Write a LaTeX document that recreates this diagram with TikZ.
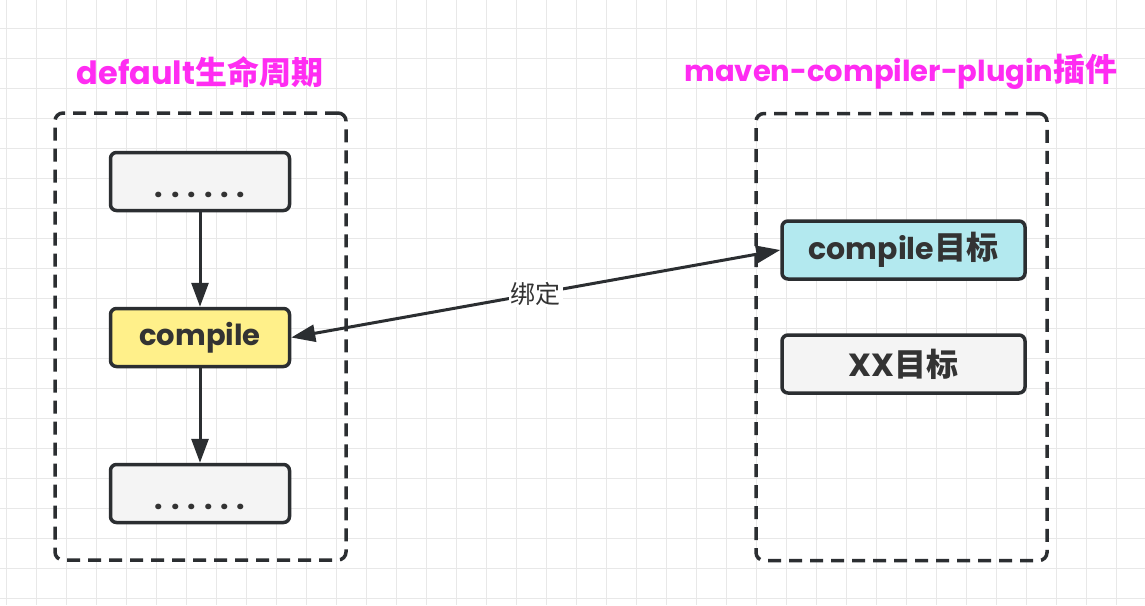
\documentclass[tikz,border=0pt]{standalone}
\usepackage{fontspec}
\setmainfont{Poppins}
\newfontfamily\cjk{Noto Sans CJK SC}
\usetikzlibrary{arrows.meta}
\definecolor{ink}{HTML}{2B2E31}
\definecolor{txt}{HTML}{333333}
\definecolor{mag}{HTML}{FF2CF2}
\definecolor{yel}{HTML}{FFF08A}
\definecolor{cya}{HTML}{B3E9EF}
\definecolor{gry}{HTML}{F4F4F4}
\definecolor{gridc}{HTML}{E8E8E8}
\newcommand\sixdots{.\kern8pt.\kern8pt.\kern8pt.\kern8pt.\kern8pt.}
\newcommand\cjkbig[1]{{\cjk\bfseries\fontsize{32}{34}\selectfont #1}}
\tikzset{
  groupbox/.style={draw=ink, line width=3.5pt, dash pattern=on 13pt off 8pt, rounded corners=8pt, inner sep=0pt, minimum width=291pt, minimum height=447pt},
  stepbox/.style={draw=ink, line width=3.5pt, rounded corners=6pt, inner sep=0pt, minimum width=179pt, minimum height=58pt, text=txt, font=\fontsize{29}{31}\selectfont\bfseries},
  goalbox/.style={stepbox, minimum width=243pt, font=\fontsize{30}{32}\selectfont\bfseries},
  titletext/.style={text=mag, font=\fontsize{32}{36}\selectfont\bfseries, inner sep=0pt},
  conn/.style={draw=ink, line width=3pt, -{Triangle[length=24pt,width=17pt]}},
  bothconn/.style={draw=ink, line width=3pt, {Triangle[length=24pt,width=17pt]}-{Triangle[length=24pt,width=17pt]}}
}
\begin{document}
\begin{tikzpicture}[x=1pt,y=-1pt]
\useasboundingbox (0,0) rectangle (1145,605);
\fill[white] (0,0) rectangle (1145,605);
\foreach \x in {6,36,...,1145} \draw[gridc, line width=1pt] (\x,0) -- (\x,605);
\foreach \y in {28,58,...,605} \draw[gridc, line width=1pt] (0,\y) -- (1145,\y);

\node[titletext] (lt) at (200,72) {default\cjkbig{生命周期}};
\node[titletext, font=\fontsize{29}{34}\selectfont\bfseries] (rt) at (901,72) {maven-compiler-plugin\cjkbig{插件}};

\node[groupbox] (lg) at (200.5,336.5) {};
\node[groupbox] (rg) at (901.5,337) {};

\node[stepbox, fill=gry] (s1) at (200,181.5) {};
\node[text=txt, font=\fontsize{30}{30}\selectfont\bfseries, anchor=base, inner sep=0pt] (d1) at (200,197) {\sixdots};
\node[stepbox, fill=yel] (s2) at (200,337.5) {compile};
\node[stepbox, fill=gry] (s3) at (200,493.5) {};
\node[text=txt, font=\fontsize{30}{30}\selectfont\bfseries, anchor=base, inner sep=0pt] (d3) at (200,509) {\sixdots};

\node[goalbox, fill=cya] (g1) at (903.5,250) {compile\cjkbig{目标}};
\node[goalbox, fill=gry, font=\fontsize{32}{34}\selectfont\bfseries] (g2) at (903.5,364) {XX\cjkbig{目标}};

\draw[conn] (s1) -- (s2);
\draw[conn] (s2) -- (s3);
\draw[bothconn] (s2.east) -- node[fill=white, inner sep=2pt, text=txt, font=\cjk\fontsize{25}{28}\selectfont] (lbl) {绑定} (g1.west);
\end{tikzpicture}
\end{document}
